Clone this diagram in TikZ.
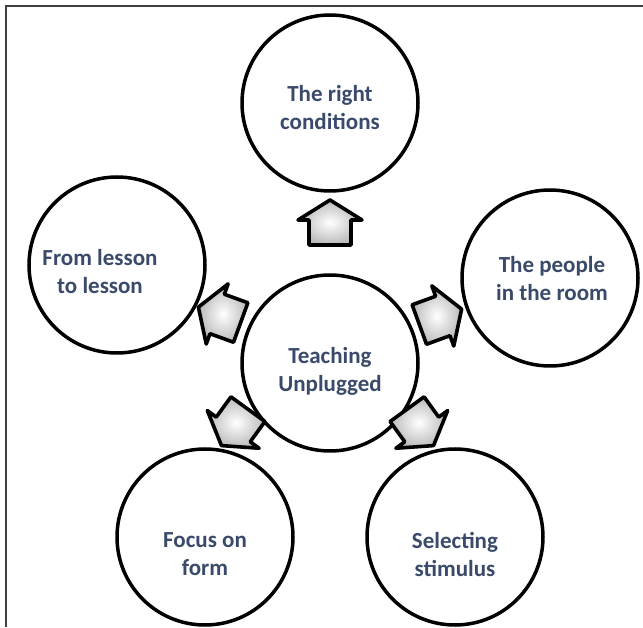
\documentclass[tikz,border=0pt]{standalone}
\usepackage{fontspec}
\setmainfont{Carlito}
\usetikzlibrary{shadings}
\definecolor{txt}{HTML}{3A4A6B}
\definecolor{frame}{HTML}{404040}
\tikzset{
  bigcircle/.style={circle, draw=black, line width=3.5pt, minimum size=176pt, inner sep=0pt, fill=white},
  lbl/.style={align=center, font=\fontsize{23}{28}\selectfont\bfseries, text=txt, inner sep=0pt},
  barrow/.pic={
    \draw[line width=3.6pt, line join=round, inner color=white, outer color=gray!55]
      (-22,-21) -- (3,-21) -- (3,-32) -- (23,0) -- (3,32) -- (3,21) -- (-22,21) -- cycle;
  }
}
\begin{document}
\begin{tikzpicture}[x=1pt,y=1pt]
\useasboundingbox (0,0) rectangle (643,627);
\draw[frame, line width=1.5pt] (6,0) -- (6,621) -- (643,621);
\node[bigcircle] (c) at (330,264) {};
\node[bigcircle] (t) at (330,524) {};
\node[bigcircle] (l) at (117,362) {};
\node[bigcircle] (r) at (550,349) {};
\node[bigcircle] (bl) at (205,90) {};
\node[bigcircle] (br) at (455,90) {};
\node[lbl] (ct) at (330,256) {Teaching\\Unplugged};
\node[lbl] (tt) at (330,519) {The right\\conditions};
\node[lbl] (lt) at (100,355) {From lesson\\to lesson};
\node[lbl] (rt) at (552,348) {The people\\in the room};
\node[lbl] (blt) at (205,73) {Focus on\\form};
\node[lbl] (brt) at (455,73) {Selecting\\stimulus};
\pic[rotate=90] at (330,404) {barrow};
\pic[rotate=20] at (440,310) {barrow};
\pic[rotate=160] at (220,312) {barrow};
\pic[rotate=234] at (235,200) {barrow};
\pic[rotate=-54] at (420,200) {barrow};
\end{tikzpicture}
\end{document}
